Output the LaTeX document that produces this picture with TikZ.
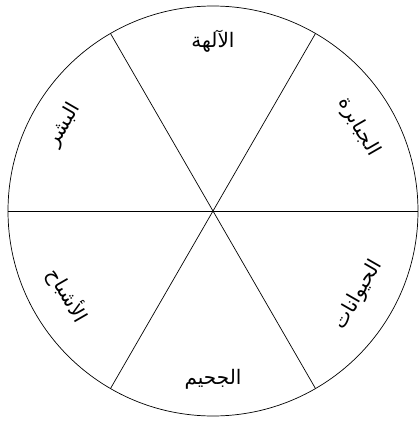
\documentclass[tikz,border=0pt]{standalone}
\usepackage{fontspec}
\newfontfamily\arabicfont[Script=Arabic]{DejaVu Sans}
\TeXXeTstate=1
\begin{document}
\begin{tikzpicture}[x=1pt,y=1pt,line width=0.7pt,
  every node/.style={font=\arabicfont\fontsize{20}{24}\selectfont,inner sep=0pt}]
  \useasboundingbox (-213,-213) rectangle (206,211);
  \coordinate (c) at (0,0);
  \draw (c) circle (205);
  \foreach \a in {0,60,120} \draw (\a:205) -- (\a+180:205);
  \node (gods) at (90:170) {\beginR الآلهة\endR};
  \node[rotate=-60] (titans) at (30:168) {\beginR الجبابرة\endR};
  \node[rotate=60] (animals) at (-30:168) {\beginR الحيوانات\endR};
  \node (hell) at (-90:168) {\beginR الجحيم\endR};
  \node[rotate=-60] (ghosts) at (-150:168) {\beginR الأشباح\endR};
  \node[rotate=60] (humans) at (150:172) {\beginR البشر\endR};
\end{tikzpicture}
\end{document}
